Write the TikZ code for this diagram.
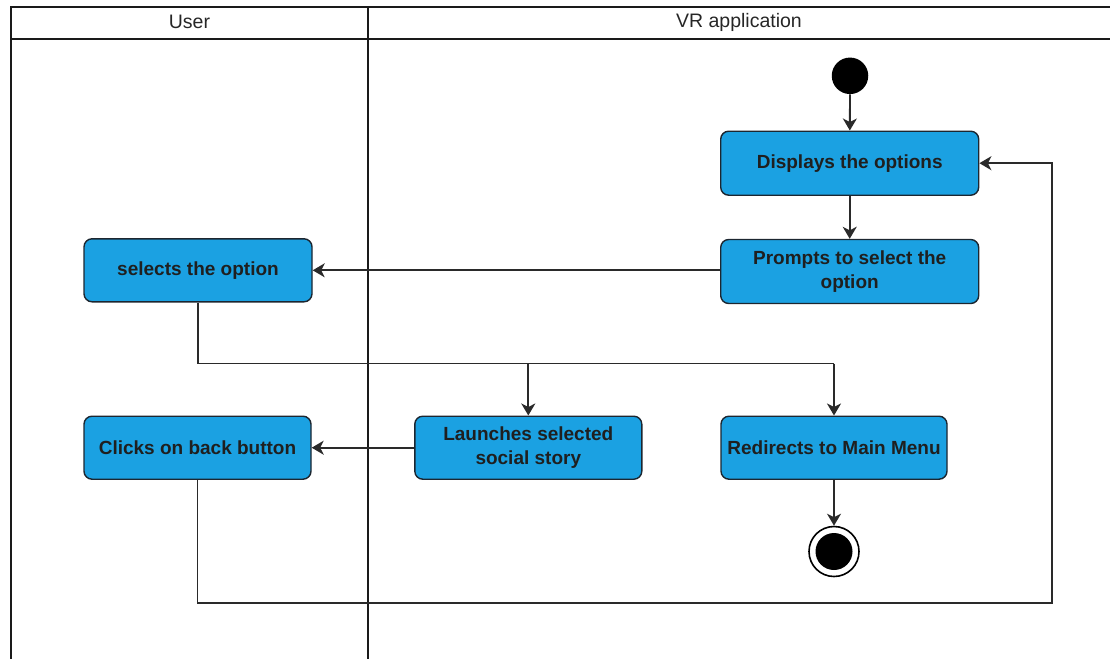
\documentclass[tikz,border=0pt]{standalone}
\usepackage{fontspec}
\setmainfont{Liberation Sans}
\usetikzlibrary{arrows.meta}
\definecolor{actfill}{HTML}{1BA1E2}
\definecolor{actline}{HTML}{1C2630}
\definecolor{wire}{HTML}{2A2A2A}
\definecolor{lane}{HTML}{1A1A1A}
\begin{document}
\begin{tikzpicture}[x=1pt,y=-1pt,
  activity/.style={draw=actline, line width=1.4pt, fill=actfill,
    rounded corners=8pt, minimum width=#1, minimum height=63pt,
    inner sep=0pt, align=center, text=black!88,
    font=\fontsize{19}{24}\selectfont\bfseries},
  activity/.default=227pt,
  lanehead/.style={font=\fontsize{19.5}{23}\selectfont, text=black!85, inner sep=0pt},
  laneline/.style={draw=lane, line width=1.6pt},
  flow/.style={draw=wire, line width=1.8pt,
    -{Stealth[length=12pt,width=14pt,inset=3.5pt]}},
  flowline/.style={draw=wire, line width=1.8pt},
  startnode/.style={circle, fill=black, minimum size=36.5pt, inner sep=0pt},
  endnode/.style={circle, draw=black, line width=1.6pt, fill=white,
    minimum size=50pt, inner sep=0pt},
  endcore/.style={circle, fill=black, minimum size=37pt, inner sep=0pt}
]
\useasboundingbox (0,0) rectangle (1110,659);

% swimlane frame
\draw[laneline] (1110,7) -- (11,7) -- (11,659);
\draw[laneline] (11,39) -- (1110,39);
\draw[laneline] (368,7) -- (368,659);
\node[lanehead] (userlane) at (189.5,22) {User};
\node[lanehead] (vrlane) at (739,22) {VR application};

% activities
\node[startnode] (start) at (850,75.8) {};
\node[activity=258pt, minimum height=64pt] (display) at (849.7,163.2) {Displays the options};
\node[activity=258pt, minimum height=64pt] (prompt) at (849.7,271.5) {Prompts to select the\\option};
\node[activity=228pt] (select) at (198,270.3) {selects the option};
\node[activity] (launch) at (528.3,447.7) {Launches selected\\social story};
\node[activity=226pt] (redirect) at (834,447.7) {Redirects to Main Menu};
\node[activity] (back) at (197.5,447.7) {Clicks on back button};
\node[endnode] (finish) at (834,551.5) {};
\node[endcore] (finishcore) at (finish.center) {};

% routing points
\coordinate (split) at (198,363.5);
\coordinate (loopdown) at (197.5,603);
\coordinate (loopright) at (1052.3,603);
\coordinate (loopup) at (1052.3,163.2);

% flows
\draw[flow] (start) -- (display);
\draw[flow] (display) -- (prompt);
\draw[flow] (prompt.west |- select.east) -- (select.east);
\draw[flowline] (select.south) -- (split) -- (split -| redirect.north);
\draw[flow] (split -| redirect.north) -- (redirect.north);
\draw[flow] (split -| launch.north) -- (launch.north);
\draw[flow] (launch.west) -- (back.east);
\draw[flow] (redirect.south) -- (finish.north);
\draw[flow] (back.south) -- (loopdown) -- (loopright) -- (loopup) -- (display.east);
\end{tikzpicture}
\end{document}
